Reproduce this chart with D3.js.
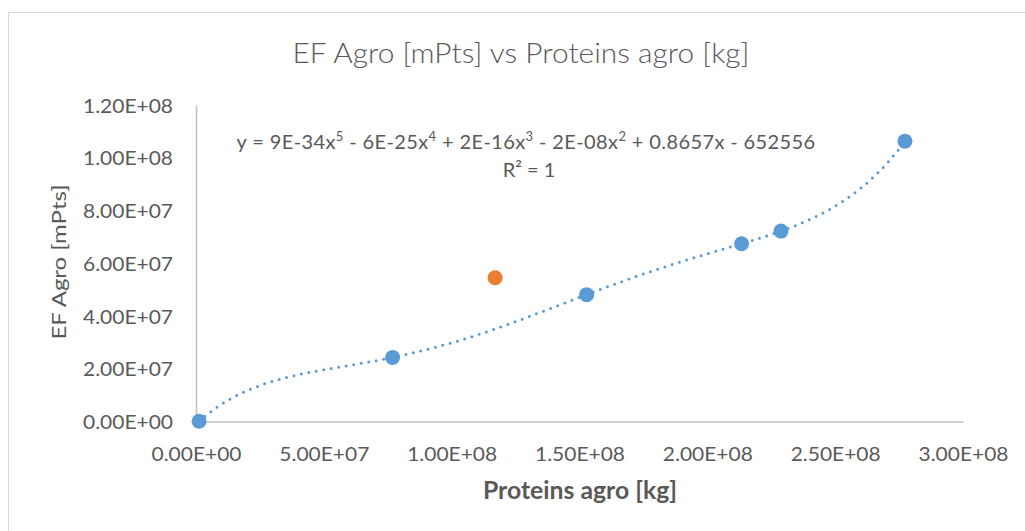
<!DOCTYPE html>
<html>
<head>
<meta charset="utf-8">
<script src="https://cdnjs.cloudflare.com/ajax/libs/d3/7.8.5/d3.min.js"></script>
<style>
  html, body { margin: 0; padding: 0; background: #fff; }
  svg text { font-family: Lato, "Open Sans", "Liberation Sans", sans-serif; fill: #595959; }
</style>
</head>
<body>
<svg id="chart" width="1025" height="531"></svg>
<script>
// Protein mass (kg) vs agricultural EF (mPts)
const proteinsKg   = [1.2e6, 7.69e7, 1.528e8, 2.134e8, 2.288e8, 2.773e8];
const efAgroMPts   = [0.1e6, 2.43e7, 4.81e7, 6.74e7, 7.22e7, 1.063e8];
// Separate observation shown in orange
const outlierX     = [1.170e8];
const outlierY     = [5.45e7];

const xTickValues  = [0, 5e7, 1e8, 1.5e8, 2e8, 2.5e8, 3e8];
const yTickValues  = [0, 2e7, 4e7, 6e7, 8e7, 1e8, 1.2e8];

const titleText    = "EF Agro [mPts] vs Proteins agro [kg]";
const xAxisTitle   = "Proteins agro [kg]";
const yAxisTitle   = "EF Agro [mPts]";
const r2Text       = "R² = 1";
// Trendline equation, pieces: [text, isSuperscript]
const equationParts = [
  ["y = 9E-34x", false], ["5", true], [" - 6E-25x", false], ["4", true],
  [" + 2E-16x", false], ["3", true], [" - 2E-08x", false], ["2", true],
  [" + 0.8657x - 652556", false]
];

const blue = "#5B9BD5", orange = "#ED7D31", axisGrey = "#BFBFBF";

const svg = d3.select("#chart");

// chart border
svg.append("rect")
  .attr("x", 8.5).attr("y", 12.5)
  .attr("width", 1100).attr("height", 600)
  .attr("fill", "#fff").attr("stroke", "#D9D9D9").attr("stroke-width", 1);

const x = d3.scaleLinear().domain([0, 3e8]).range([196, 963]);
const y = d3.scaleLinear().domain([0, 1.2e8]).range([421.5, 105]);

const sci = v => {
  const [m, e] = v.toExponential(2).split("e");
  const sign = e[0] === "-" ? "-" : "+";
  const digits = e.replace(/[+-]/, "").padStart(2, "0");
  return `${m}E${sign}${digits}`;
};

// fit a plain text element to a given rendered width
const fitLength = (sel, w) => sel.attr("textLength", w).attr("lengthAdjust", "spacingAndGlyphs");

// axes
const xAxis = svg.append("g").attr("transform", `translate(0,${y(0)})`)
  .call(d3.axisBottom(x).tickValues(xTickValues).tickFormat(sci).tickSize(0));
const yAxis = svg.append("g").attr("transform", `translate(${x(0)},0)`)
  .call(d3.axisLeft(y).tickValues(yTickValues).tickFormat(sci).tickSize(0));
[xAxis, yAxis].forEach(g => {
  g.select(".domain").attr("stroke", axisGrey).attr("stroke-width", 1.5);
  g.selectAll("text").attr("font-size", 20).attr("fill", "#595959")
    .style("font-family", "Lato, 'Open Sans', sans-serif")
    .each(function () { fitLength(d3.select(this), 90); });
});
xAxis.selectAll("text").attr("y", 39.5).attr("dy", 0);
yAxis.selectAll("text").attr("x", -23).attr("dy", "0.36em");

// trendline: polynomial through the blue points (degree = n - 1), Newton form in scaled units
const S = 1e8;
const xs = proteinsKg.map(v => v / S), ys = efAgroMPts.map(v => v / S);
const coef = ys.slice();
for (let j = 1; j < xs.length; j++)
  for (let i = xs.length - 1; i >= j; i--)
    coef[i] = (coef[i] - coef[i - 1]) / (xs[i] - xs[i - j]);
const poly = t => {
  let r = coef[coef.length - 1];
  for (let i = coef.length - 2; i >= 0; i--) r = r * (t - xs[i]) + coef[i];
  return r;
};
const xMin = d3.min(proteinsKg), xMax = d3.max(proteinsKg);
const trend = d3.range(0, 301).map(k => {
  const xv = xMin + (xMax - xMin) * k / 300;
  return [xv, poly(xv / S) * S];
});
svg.append("path")
  .datum(trend)
  .attr("d", d3.line().x(d => x(d[0])).y(d => y(d[1])).curve(d3.curveLinear))
  .attr("fill", "none").attr("stroke", blue)
  .attr("stroke-width", 3).attr("stroke-linecap", "round")
  .attr("stroke-dasharray", "0 7.6");

// blue series
svg.append("g").selectAll("circle")
  .data(proteinsKg.map((v, i) => [v, efAgroMPts[i]]))
  .join("circle")
  .attr("cx", d => x(d[0])).attr("cy", d => y(d[1])).attr("r", 7.5)
  .attr("fill", blue);

// orange point
svg.append("g").selectAll("circle")
  .data(outlierX.map((v, i) => [v, outlierY[i]]))
  .join("circle")
  .attr("cx", d => x(d[0])).attr("cy", d => y(d[1])).attr("r", 7.5)
  .attr("fill", orange);

// title
fitLength(svg.append("text")
  .attr("x", 521).attr("y", 63).attr("text-anchor", "middle")
  .attr("font-size", 28).attr("font-weight", 300)
  .text(titleText), 457);

// axis titles
fitLength(svg.append("text")
  .attr("x", 580).attr("y", 499).attr("text-anchor", "middle")
  .attr("font-size", 24).attr("font-weight", 700)
  .text(xAxisTitle), 194);
fitLength(svg.append("text")
  .attr("transform", "translate(66,262) rotate(-90)")
  .attr("text-anchor", "middle")
  .attr("font-size", 20)
  .text(yAxisTitle), 155);

// trendline equation
const eq = svg.append("text")
  .attr("x", 526).attr("y", 149).attr("text-anchor", "middle")
  .attr("font-size", 20);
equationParts.forEach(([t, sup]) => {
  const s = eq.append("tspan").text(t);
  if (sup) s.attr("font-size", 13).attr("baseline-shift", "super");
});
// spread the equation to its target width
const eqTarget = 579, eqNatural = eq.node().getComputedTextLength();
const eqChars = equationParts.reduce((n, p) => n + p[0].length, 0);
eq.attr("letter-spacing", (eqTarget - eqNatural) / eqChars);

svg.append("text")
  .attr("x", 529).attr("y", 177).attr("text-anchor", "middle")
  .attr("font-size", 20)
  .text(r2Text);
</script>
</body>
</html>
